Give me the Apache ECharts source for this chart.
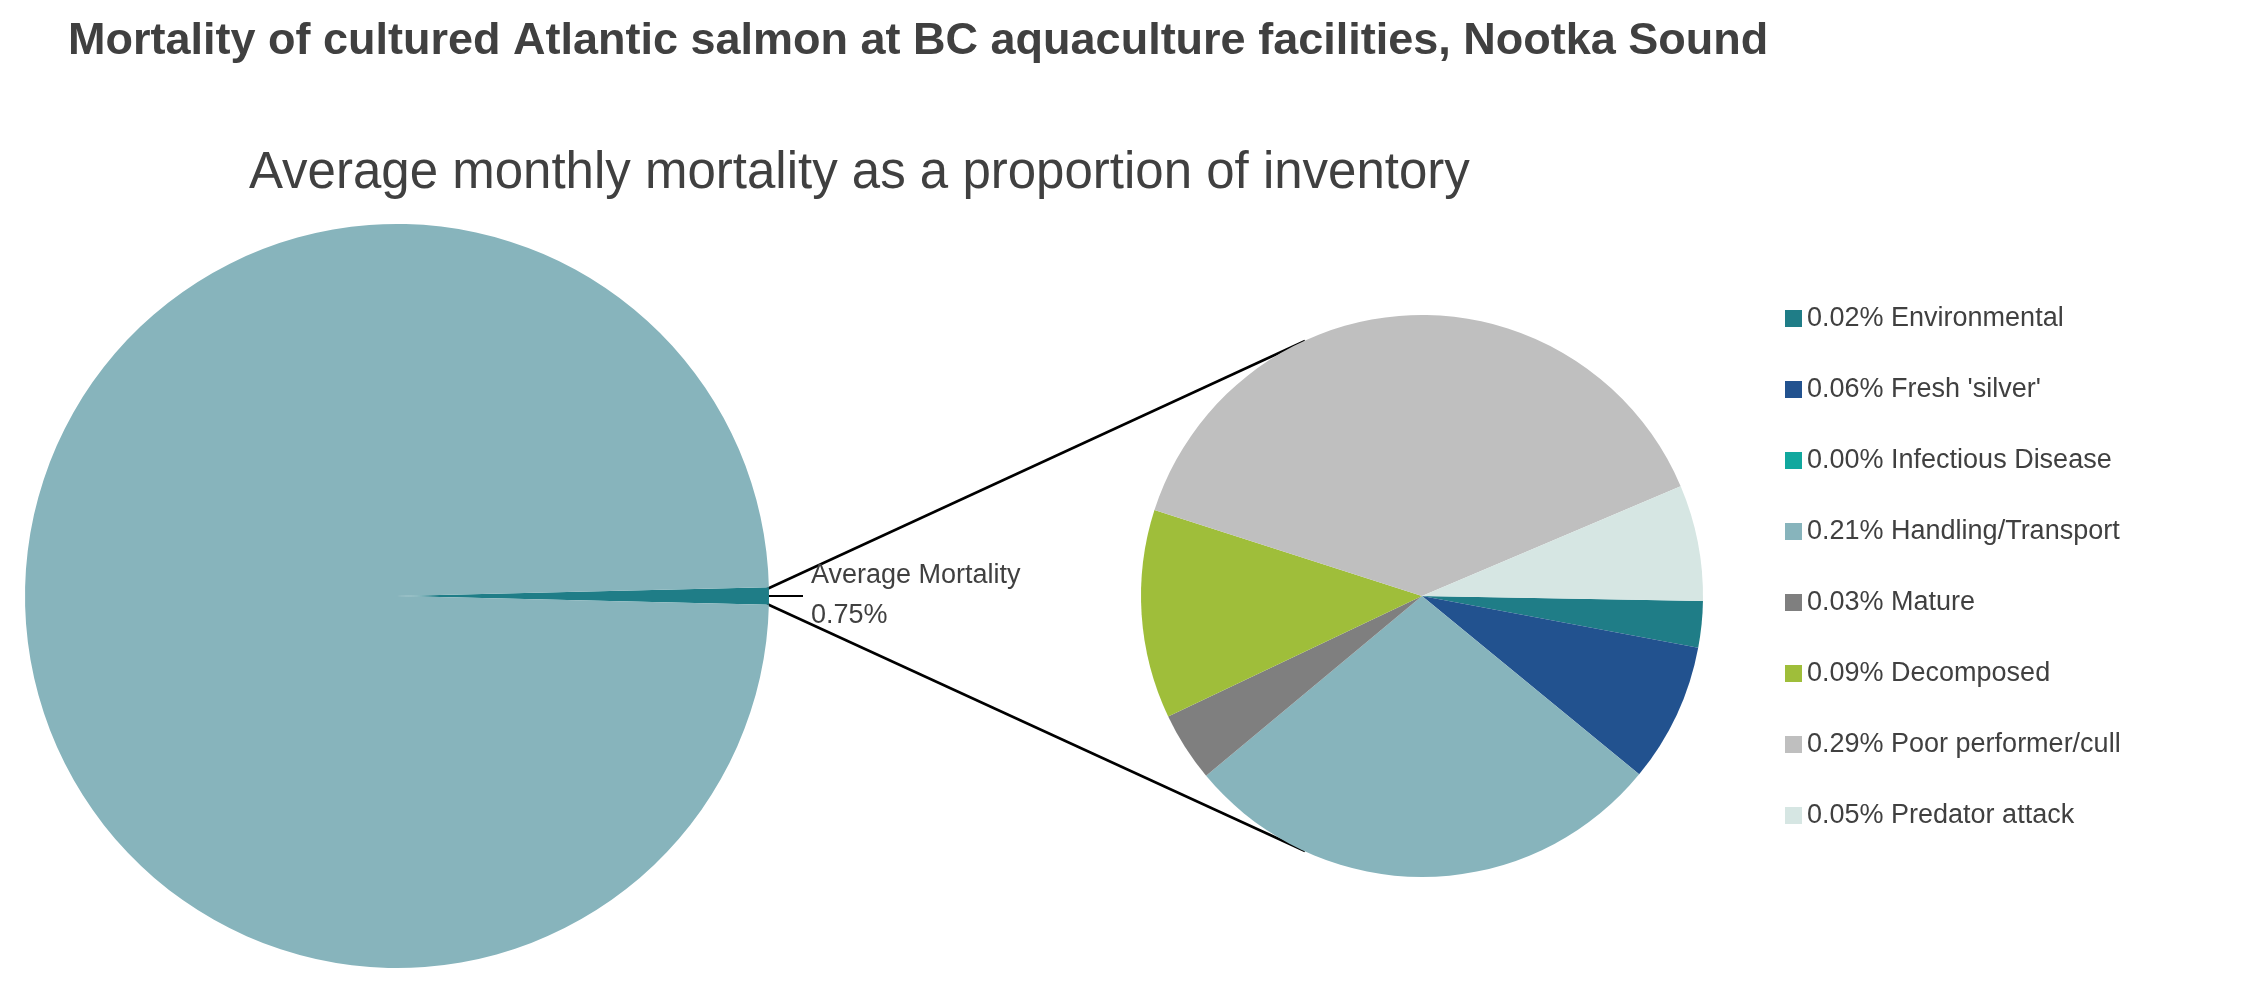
<!DOCTYPE html>
<html><head><meta charset="utf-8">
<script src="https://cdn.jsdelivr.net/npm/echarts@6/dist/echarts.min.js"></script>
<style>html,body{margin:0;padding:0;background:#fff}#c{width:2266px;height:982px}</style>
</head><body><div id="c"></div>
<script>
const categories = ["Environmental","Fresh 'silver'","Infectious Disease","Handling/Transport","Mature","Decomposed","Poor performer/cull","Predator attack"];
const values = [0.02,0.06,0.00,0.21,0.03,0.09,0.29,0.05];
const colors = ["#1f7d87","#22528f","#11a89e","#87b4bc","#7f7f7f","#9fbe3a","#bfbfbf","#d6e6e3"];
const totalMortality = 0.75;
const survivors = 100 - totalMortality;

const chart = echarts.init(document.getElementById('c'));
const font = "Arial, 'Liberation Sans', sans-serif";
chart.setOption({
  animation:false,
  title:[
    {text:"Mortality of cultured Atlantic salmon at BC aquaculture facilities, Nootka Sound",left:63,top:14,
     textStyle:{fontFamily:font,fontSize:45,fontWeight:'bold',color:'#404040'}},
    {text:"Average monthly mortality as a proportion of inventory",left:244,top:143,
     textStyle:{fontFamily:font,fontSize:51,fontWeight:'normal',color:'#404040'}}
  ],
  legend:{orient:'vertical',left:1780,top:300,itemGap:44,itemWidth:17,itemHeight:17,icon:'rect',
    data:categories,
    formatter:n=>values[categories.indexOf(n)].toFixed(2)+'% '+n,
    textStyle:{fontFamily:font,fontSize:27,color:'#404040'}},
  graphic:[
    {type:'line',shape:{x1:767,y1:589,x2:1305,y2:341},style:{stroke:'#000',lineWidth:2.5}},
    {type:'line',shape:{x1:767,y1:604,x2:1305,y2:851},style:{stroke:'#000',lineWidth:2.5}}
  ],
  series:[
    {type:'pie',center:[397,596],radius:[0,372],startAngle:totalMortality/100*180,clockwise:true,
     label:{show:false},
     data:[
      {name:'Average Mortality',value:totalMortality,itemStyle:{color:'#1f7d87'},
       label:{show:true,position:'outside',formatter:'Average Mortality\n'+totalMortality.toFixed(2)+'%',
         fontFamily:font,fontSize:27,color:'#404040',lineHeight:40,align:'center',distanceToLabelLine:8},
       labelLine:{show:true,length:12,length2:22,lineStyle:{color:'#000',width:2}}},
      {name:'rest',value:survivors,itemStyle:{color:'#87b4bc'}}
     ],legendHoverLink:false},
    {type:'pie',center:[1422,596],radius:[0,281],startAngle:-1,clockwise:true,label:{show:false},
     data:categories.map((c,i)=>({name:c,value:values[i],itemStyle:{color:colors[i]}})),
     stillShowZeroSum:true,minAngle:0}
  ]
});
</script></body></html>
